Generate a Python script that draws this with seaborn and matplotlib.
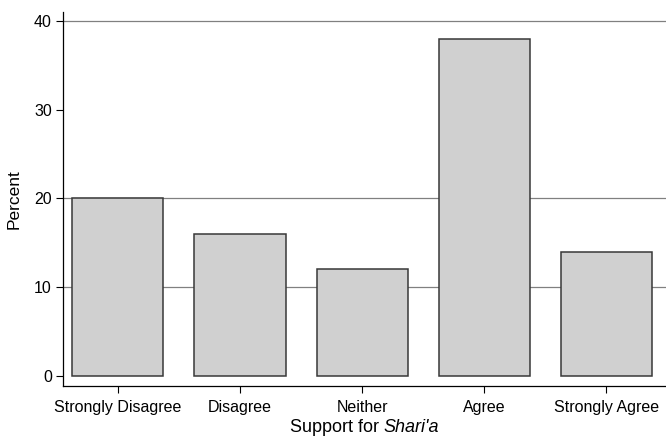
import matplotlib
matplotlib.use("Agg")
import matplotlib.pyplot as plt
import seaborn as sns
import pandas as pd

# data
categories = ["Strongly Disagree", "Disagree", "Neither", "Agree", "Strongly Agree"]
percent = [20, 16, 12, 38, 14]
y_ticks = [0, 10, 20, 30, 40]
grid_at = [10, 20, 40]

sns.set_theme(style="white")
plt.rcParams["font.family"] = ["Liberation Sans", "DejaVu Sans"]

df = pd.DataFrame({"cat": categories, "pct": percent})

fig = plt.figure(figsize=(6.66, 4.42), dpi=100)
ax = fig.add_axes([0.0946, 0.1267, 0.9054, 0.8462])

sns.barplot(data=df, x="cat", y="pct", color="#d0d0d0", saturation=1,
            edgecolor="#383838", linewidth=1.1, width=0.746, ax=ax, zorder=2)

ax.set_xlim(-0.45, 4.49)
ax.set_ylim(-1.13, 41.0)
ax.set_yticks(y_ticks)
ax.set_yticklabels([str(v) for v in y_ticks])

# horizontal grid, only at some ticks as in the original
ax.yaxis.grid(True, color="#808080", linewidth=0.9, zorder=0)
ax.set_axisbelow(True)
for v, gl in zip(y_ticks, ax.yaxis.get_gridlines()):
    gl.set_visible(v in grid_at)

for s in ["top", "right"]:
    ax.spines[s].set_visible(False)
for s in ["left", "bottom"]:
    ax.spines[s].set_color("black")
    ax.spines[s].set_linewidth(0.9)

ax.tick_params(axis="both", which="major", direction="out", length=5,
               width=0.8, color="black", labelsize=11.5, labelcolor="black",
               bottom=True, left=True)
ax.tick_params(axis="x", pad=5)
ax.tick_params(axis="y", pad=3)

ax.set_ylabel("Percent", fontsize=12.5, color="black", labelpad=9)
ax.set_xlabel("")

# x title with the italic word: two pieces, centred together under the axis
lab_y = -0.123
t1 = ax.text(0.5, lab_y, "Support for ", transform=ax.transAxes,
             ha="left", va="baseline", fontsize=13, color="black")
t2 = ax.annotate("Shari'a", xy=(1, 0), xycoords=t1, ha="left", va="bottom",
                 fontsize=13, style="italic", color="black")
fig.canvas.draw()
r = fig.canvas.get_renderer()
w = t1.get_window_extent(r).width + t2.get_window_extent(r).width
ax_w = ax.get_window_extent(r).width
t1.set_x(0.5 - 0.5 * w / ax_w)

plt.savefig("out.png", dpi=100)
